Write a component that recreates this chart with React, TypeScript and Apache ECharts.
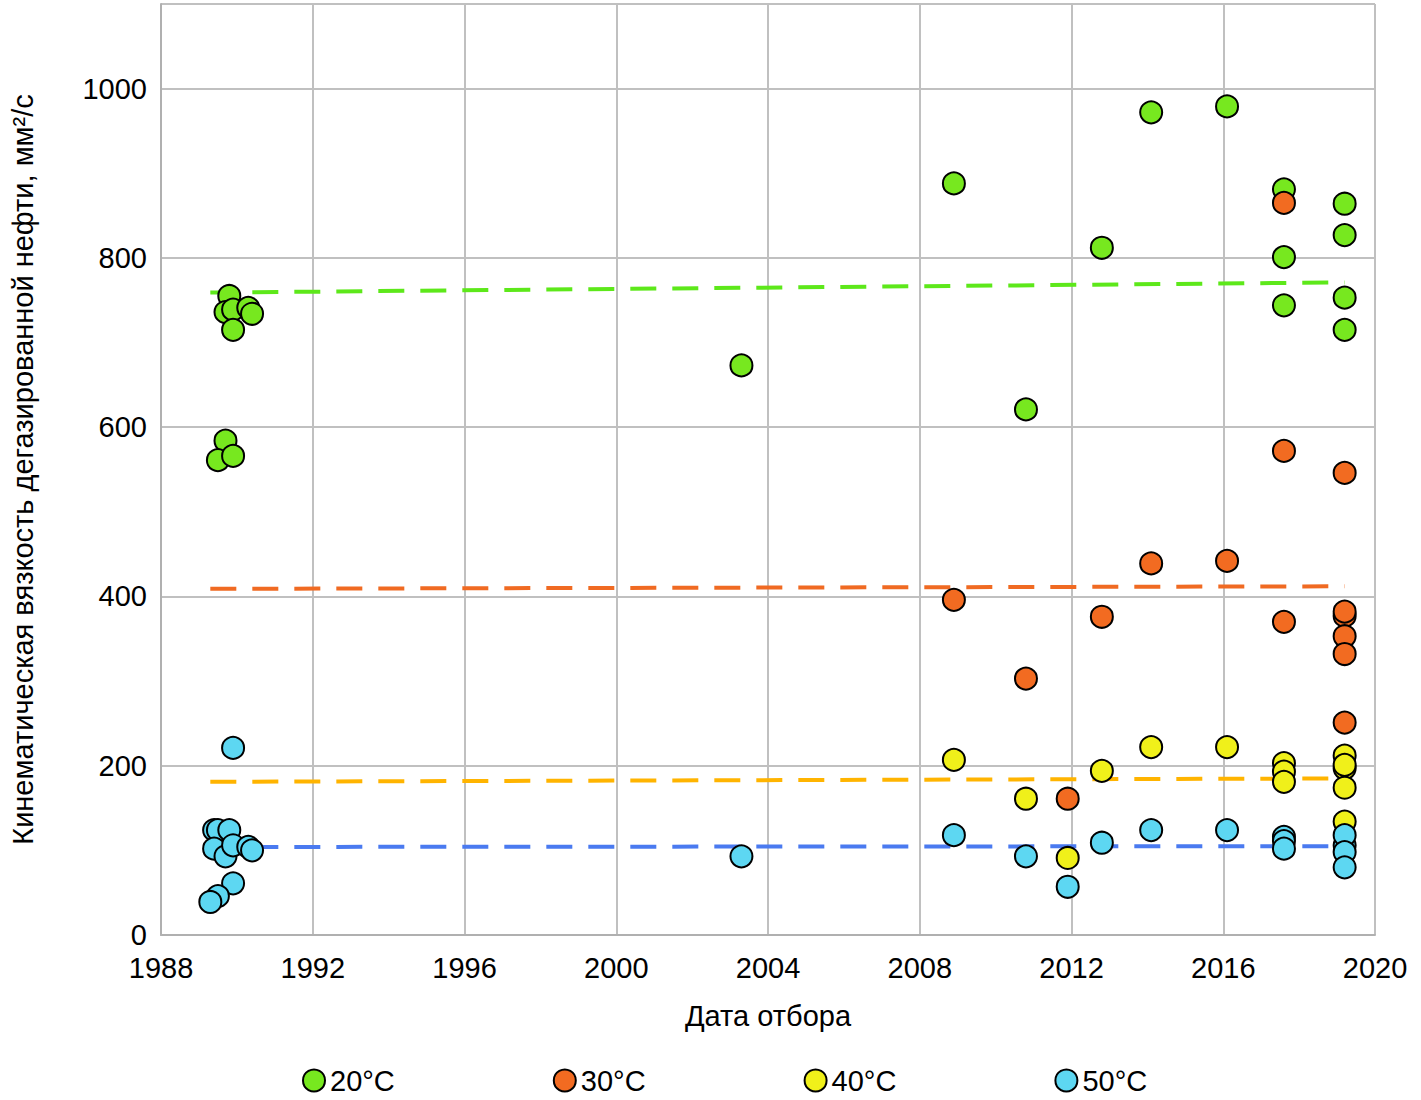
import { useEffect, useRef } from "react";
import * as echarts from "echarts";

const seriesNames = ["20°C", "30°C", "40°C", "50°C"];
const markerColors = ["#77e81f", "#f26b21", "#f0f01a", "#5dd7f2"];
const trendColors = ["#5de81a", "#f06a22", "#ffb400", "#4a7af0"];

const pts20 = [
  [1989.8, 755], [1989.7, 736], [1989.9, 739], [1990.3, 741], [1990.4, 734], [1989.9, 715],
  [1989.7, 584], [1989.5, 561], [1989.9, 566], [2003.3, 673], [2008.9, 888], [2010.8, 621],
  [2012.8, 812], [2014.1, 972], [2016.1, 979], [2017.6, 881], [2017.6, 801], [2017.6, 744],
  [2019.2, 864], [2019.2, 827], [2019.2, 753], [2019.2, 715],
];
const pts30 = [
  [2008.9, 396], [2010.8, 303], [2011.9, 161], [2012.8, 376], [2014.1, 439], [2016.1, 442],
  [2017.6, 865], [2017.6, 572], [2017.6, 370], [2019.2, 546], [2019.2, 377], [2019.2, 382],
  [2019.2, 353], [2019.2, 332], [2019.2, 251],
];
const pts40 = [
  [2008.9, 207], [2010.8, 161], [2011.9, 91], [2012.8, 194], [2014.1, 222], [2016.1, 222],
  [2017.6, 203], [2017.6, 193], [2017.6, 181], [2019.2, 212], [2019.2, 197], [2019.2, 174],
  [2019.2, 134], [2019.2, 201],
];
const pts50 = [
  [1989.9, 221], [1989.4, 124], [1989.5, 124], [1989.8, 124], [1989.4, 102], [1989.7, 93],
  [1989.9, 106], [1990.3, 104], [1990.4, 100], [1989.9, 61], [1989.5, 46], [1989.3, 39],
  [2003.3, 93], [2008.9, 118], [2010.8, 93], [2011.9, 57], [2012.8, 109], [2014.1, 124],
  [2016.1, 124], [2017.6, 116], [2017.6, 111], [2017.6, 102], [2019.2, 106], [2019.2, 118],
  [2019.2, 98], [2019.2, 80],
];
const trends = [
  [[1989.3, 759], [2019.2, 771]],
  [[1989.3, 409], [2019.2, 412]],
  [[1989.3, 181], [2019.2, 185]],
  [[1989.3, 104], [2019.2, 105]],
];

const App = () => {
  const chartRef = useRef(null);

  useEffect(() => {
    document.body.style.margin = "0";
    let myChart: echarts.ECharts | null = null;
    if (chartRef.current) {
      myChart = echarts.init(chartRef.current, null, { renderer: "svg" });
      const font = "Arial, 'Liberation Sans', sans-serif";
      const allPts = [pts20, pts30, pts40, pts50];
      myChart.setOption({
        animation: false,
        textStyle: { fontFamily: font },
        grid: { left: 155, right: 46, top: 4, bottom: 165 },
        legend: {
          data: seriesNames,
          bottom: 0,
          left: 297,
          itemGap: 158,
          itemWidth: 22,
          itemHeight: 22,
          textStyle: { fontSize: 29, color: "#000", fontFamily: font },
        },
        xAxis: {
          type: "value",
          min: 1988,
          max: 2020,
          interval: 4,
          name: "Дата отбора",
          nameLocation: "middle",
          nameGap: 66,
          nameTextStyle: { fontSize: 29, color: "#000" },
          axisLine: { lineStyle: { color: "#b0b0b0", width: 2 } },
          axisTick: { show: false },
          axisLabel: { fontSize: 29, color: "#000", margin: 18, formatter: (v: number) => String(v) },
          splitLine: { lineStyle: { color: "#c0c0c0", width: 2 } },
        },
        yAxis: {
          type: "value",
          min: 0,
          max: 1100,
          interval: 200,
          name: "Кинематическая вязкость дегазированной нефти, мм²/с",
          nameLocation: "middle",
          nameGap: 124,
          nameTextStyle: { fontSize: 29, color: "#000" },
          axisLine: { show: true, lineStyle: { color: "#b0b0b0", width: 2 } },
          axisTick: { show: false },
          axisLabel: {
            fontSize: 29,
            color: "#000",
            margin: 14,
            formatter: (v: number) => (v > 1000 ? "" : String(v)),
          },
          splitLine: { lineStyle: { color: "#c0c0c0", width: 2 } },
        },
        series: [
          ...trends.map((t, i) => ({
            type: "line",
            name: "trend" + i,
            data: t,
            symbol: "none",
            silent: true,
            lineStyle: { color: trendColors[i], width: 4, type: [26, 16] },
            z: 1,
          })),
          ...allPts.map((p, i) => ({
            type: "scatter",
            name: seriesNames[i],
            data: p,
            symbolSize: 22,
            itemStyle: { color: markerColors[i], borderColor: "#000", borderWidth: 2, opacity: 1 },
            z: 3,
          })),
        ],
      });
    }
    return () => {
      myChart && myChart.dispose();
    };
  }, []);

  return <div ref={chartRef} style={{ width: "1421px", height: "1100px" }}></div>;
};

export default App;
